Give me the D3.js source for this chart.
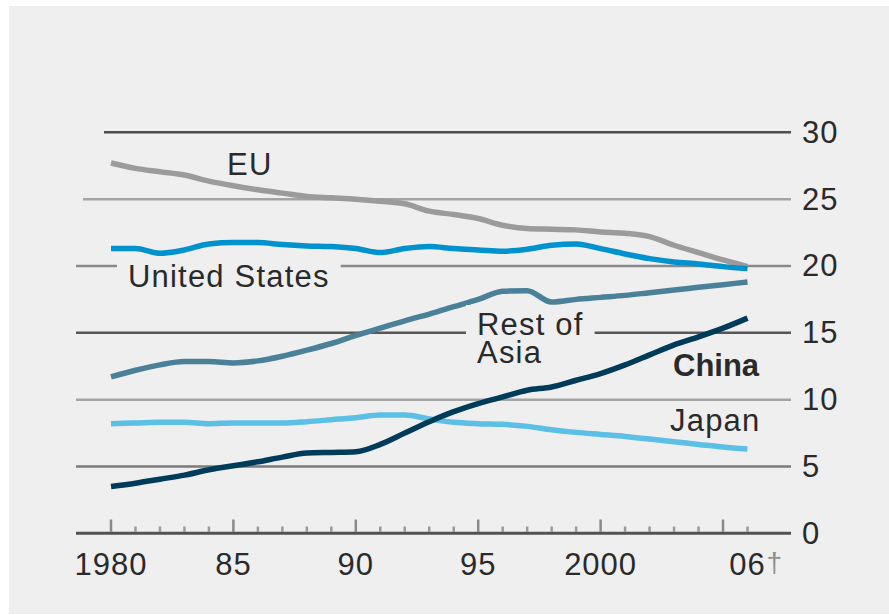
<!DOCTYPE html>
<html>
<head>
<meta charset="utf-8">
<script src="https://cdn.jsdelivr.net/npm/d3@7"></script>
<style>
  body { margin: 0; background: #fff; }
  svg text { font-family: "Liberation Sans", Arial, sans-serif; }
</style>
</head>
<body>
<svg width="889" height="615"></svg>
<script>
// share of world output (%)
var years = [1980, 1981, 1982, 1983, 1984, 1985, 1986, 1987, 1988, 1989,
             1990, 1991, 1992, 1993, 1994, 1995, 1996, 1997, 1998, 1999,
             2000, 2001, 2002, 2003, 2004, 2005, 2006];

var eu = [27.7, 27.3, 27.05, 26.8, 26.35, 26.0, 25.7, 25.45, 25.2, 25.1,
          25.0, 24.85, 24.65, 24.1, 23.85, 23.55, 23.05, 22.8, 22.75, 22.7,
          22.55, 22.45, 22.2, 21.55, 21.0, 20.45, 19.95];
var us = [21.3, 21.3, 20.95, 21.2, 21.65, 21.75, 21.75, 21.6, 21.5, 21.45,
          21.3, 21.0, 21.3, 21.45, 21.3, 21.2, 21.1, 21.25, 21.55, 21.65,
          21.3, 20.9, 20.55, 20.3, 20.15, 19.95, 19.8];
var restOfAsia = [11.7, 12.2, 12.6, 12.85, 12.85, 12.75, 12.9, 13.25, 13.7, 14.2,
                  14.8, 15.35, 15.9, 16.4, 16.95, 17.5, 18.1, 18.15, 17.3, 17.5,
                  17.65, 17.8, 18.0, 18.2, 18.4, 18.6, 18.8];
var japan = [8.2, 8.25, 8.3, 8.3, 8.2, 8.25, 8.25, 8.25, 8.35, 8.5,
             8.65, 8.85, 8.85, 8.55, 8.3, 8.2, 8.15, 8.0, 7.75, 7.55,
             7.4, 7.25, 7.05, 6.85, 6.65, 6.45, 6.3];
var china = [3.5, 3.75, 4.05, 4.35, 4.75, 5.05, 5.35, 5.7, 6.0, 6.05,
             6.1, 6.65, 7.5, 8.35, 9.1, 9.7, 10.2, 10.7, 10.95, 11.45,
             11.95, 12.6, 13.35, 14.1, 14.7, 15.35, 16.1];

var yTicks = [0, 5, 10, 15, 20, 25, 30];
var majorYears = [1980, 1985, 1990, 1995, 2000, 2005];
var xLabelYears = [1980, 1985, 1990, 1995, 2000, 2006];
var xLabels = ["1980", "85", "90", "95", "2000", "06"];

var series = [
    {name: "EU", values: eu, color: "#9b9b9b"},
    {name: "United States", values: us, color: "#0092cf"},
    {name: "Rest of Asia", values: restOfAsia, color: "#4a8199"},
    {name: "Japan", values: japan, color: "#5bbfe6"},
    {name: "China", values: china, color: "#003b59"}
];

var bg = "#efefef";
var left = 76, right = 791;

var x = d3.scaleLinear().domain([1980, 2006]).range([111, 747.5]);
var y = d3.scaleLinear().domain([0, 30]).range([533.3, 132.3]);

var svg = d3.select("svg");

svg.append("rect")
    .attr("x", 9).attr("y", 6)
    .attr("width", 880).attr("height", 608)
    .attr("fill", bg);

// gridlines
var gridStart = {30: 104, 25: 83};
var gridColor = {30: "#4d4d4d", 25: "#a4a4a4", 20: "#8a8a8a", 15: "#575757",
                 10: "#a4a4a4", 5: "#7b7b7b", 0: "#525252"};

svg.append("g").selectAll("line")
    .data(yTicks)
    .enter().append("line")
    .attr("x1", function(d) { return gridStart[d] || left; })
    .attr("x2", right)
    .attr("y1", function(d) { return y(d); })
    .attr("y2", function(d) { return y(d); })
    .attr("stroke", function(d) { return gridColor[d]; })
    .attr("stroke-width", function(d) { return d === 0 ? 3 : 2.5; });

// y labels on the right
var yAxis = d3.axisRight(y)
    .tickValues(yTicks)
    .tickSize(0)
    .tickPadding(11);

var gy = svg.append("g")
    .attr("transform", "translate(" + right + ",0)")
    .call(yAxis);
gy.select(".domain").remove();
gy.selectAll("text")
    .attr("fill", "#2a2a2a")
    .style("font-size", "31px")
    .style("letter-spacing", "1px");

// year ticks
svg.append("g").selectAll("line")
    .data(years)
    .enter().append("line")
    .attr("x1", function(d) { return x(d); })
    .attr("x2", function(d) { return x(d); })
    .attr("y1", function(d) { return majorYears.indexOf(d) >= 0 ? 519.5 : 526.5; })
    .attr("y2", 532)
    .attr("stroke", function(d) { return majorYears.indexOf(d) >= 0 ? "#8a8a8a" : "#9a9a9a"; })
    .attr("stroke-width", 2.5);

// year labels
svg.append("g").selectAll("text")
    .data(xLabelYears)
    .enter().append("text")
    .attr("x", function(d) { return x(d); })
    .attr("y", 575)
    .attr("text-anchor", "middle")
    .attr("fill", "#2a2a2a")
    .style("font-size", "31px")
    .style("letter-spacing", "1px")
    .text(function(d, i) { return xLabels[i]; });

svg.append("text")
    .attr("x", x(2006) + 19)
    .attr("y", 572)
    .attr("fill", "#8f8f8f")
    .style("font-size", "28px")
    .text("\u2020");

// label boxes that break the gridlines
var labels = [
    {lines: ["EU"], x: 227, y: 175, bold: false, box: false},
    {lines: ["United States"], x: 128, y: 287, bold: false, box: true},
    {lines: ["Rest of", "Asia"], x: 477, y: 335, bold: false, box: true},
    {lines: ["China"], x: 673, y: 376, bold: true, box: false},
    {lines: ["Japan"], x: 670, y: 431, bold: false, box: false}
];

var lg = svg.append("g");
labels.forEach(function(l) {
    var t = lg.append("text")
        .attr("x", l.x)
        .attr("y", l.y)
        .attr("fill", "#2a2a2a")
        .style("font-size", "31px")
        .style("font-weight", l.bold ? "bold" : "normal")
        .style("letter-spacing", l.bold ? "0px" : "1.2px");
    l.lines.forEach(function(s, i) {
        t.append("tspan")
            .attr("x", l.x)
            .attr("dy", i === 0 ? 0 : 28)
            .text(s);
    });
    if (l.box) {
        var b = t.node().getBBox();
        lg.insert("rect", "text")
            .attr("x", b.x - 11)
            .attr("y", b.y - 2)
            .attr("width", b.width + 22)
            .attr("height", b.height + 4)
            .attr("fill", bg);
    }
});

// series lines
var line = d3.line()
    .x(function(d, i) { return x(years[i]); })
    .y(function(d) { return y(d); })
    .curve(d3.curveMonotoneX);

svg.append("g").selectAll("path")
    .data(series)
    .enter().append("path")
    .attr("d", function(d) { return line(d.values); })
    .attr("fill", "none")
    .attr("stroke", function(d) { return d.color; })
    .attr("stroke-width", 5.5);

// keep labels on top
svg.node().appendChild(lg.node());
</script>
</body>
</html>
